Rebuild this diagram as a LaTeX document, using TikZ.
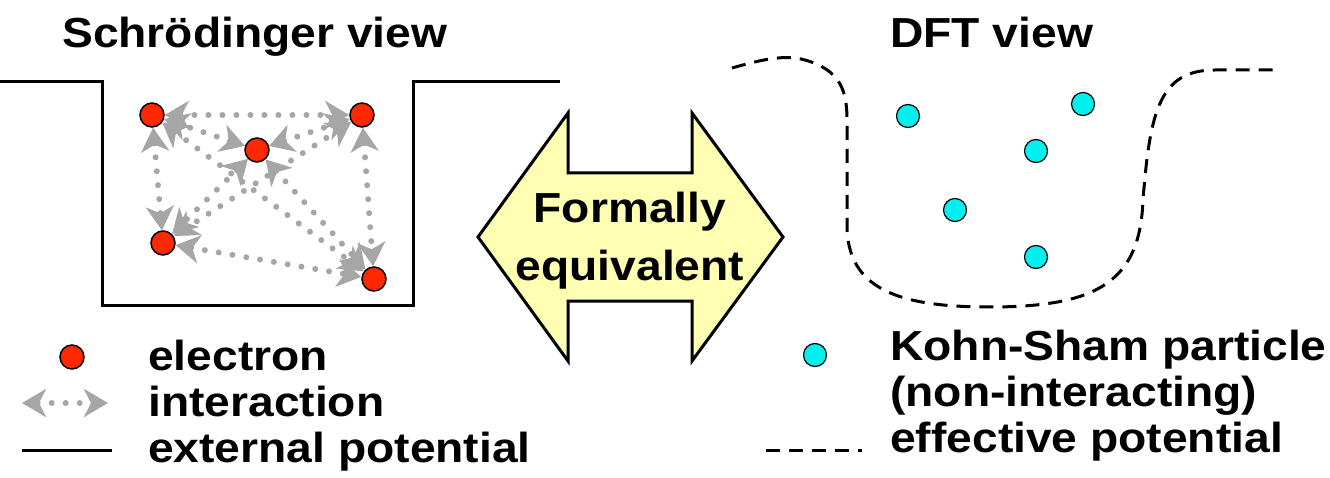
\documentclass[tikz,border=0pt]{standalone}
\usepackage{fontspec}
\newfontfamily\diagfont[FakeStretch=1.1]{Liberation Sans}
\usetikzlibrary{arrows.meta,positioning}

\definecolor{elred}{RGB}{255,40,0}
\definecolor{kscyan}{RGB}{0,240,240}
\definecolor{eqyellow}{RGB}{255,255,180}

\begin{document}
\begin{tikzpicture}[x=1pt, y=-1pt,
  txt/.style={font=\diagfont\bfseries\fontsize{42}{46}\selectfont, inner sep=0pt, anchor=base west},
  electron/.style={circle, draw=black, line width=1.5pt, fill=elred, minimum size=24pt, inner sep=0pt},
  ksdot/.style={circle, draw=black, line width=1.2pt, fill=kscyan, minimum size=23pt, inner sep=0pt},
  interact/.style={draw=gray!70, line width=6pt, dash pattern=on 0pt off 14pt, line cap=round,
    {Stealth[length=24pt, width=28pt, inset=7pt, fill=gray!70]}-{Stealth[length=24pt, width=28pt, inset=7pt, fill=gray!70]}},
  extpot/.style={line width=3pt},
  effpot/.style={line width=3pt, dash pattern=on 14pt off 9pt},
]
\useasboundingbox (0,0) rectangle (1330,478);

% === Schroedinger view ===
\node[txt] (stitle) at (62,48) {Schrödinger view};
\draw[extpot] (0,82) -- (102,82) -- (102,305) -- (413,305) -- (413,82) -- (560,82);

\node[electron] (el1) at (152,115) {};
\node[electron] (el2) at (257,150) {};
\node[electron] (el3) at (362,115) {};
\node[electron] (el4) at (163,243) {};
\node[electron] (el5) at (374,279) {};

\foreach \a/\b in {el1/el3, el1/el4, el3/el5, el4/el5, el2/el1, el2/el3, el2/el4, el2/el5, el1/el5, el3/el4}
  \draw[interact] (\a) -- (\b);

% === Formally equivalent ===
\draw[line width=3pt, fill=eqyellow, line join=miter]
  (478,237) -- (568,113) -- (568,173) -- (692,173) -- (692,113) -- (783,237)
  -- (692,361) -- (692,301) -- (568,301) -- (568,361) -- cycle;
\node[txt, anchor=base] (eq1) at (630,223) {Formally};
\node[txt, anchor=base] (eq2) at (630,280) {equivalent};

% === DFT view ===
\node[txt] (dtitle) at (890,48) {DFT view};
\draw[effpot] (732,68) .. controls (760,60) and (785,54) .. (805,60)
  .. controls (840,70) and (847,90) .. (847,120) -- (847,225)
  .. controls (847,290) and (900,307) .. (990,307)
  .. controls (1100,307) and (1140,280) .. (1143,200)
  .. controls (1150,110) and (1160,70) .. (1215,70) -- (1278,70);

\node[ksdot] (ks1) at (908,116) {};
\node[ksdot] (ks2) at (1083,104) {};
\node[ksdot] (ks3) at (1036,151) {};
\node[ksdot] (ks4) at (955,210) {};
\node[ksdot] (ks5) at (1036,257) {};

% === legend, left ===
\node[electron] (legel) at (72,357) {};
\node[txt] (lelectron) at (148,370) {electron};
\coordinate (intL) at (22,403);
\coordinate (intR) at (108,403);
\draw[interact] (intL) -- (intR);
\node[txt] (linteract) at (148,416) {interaction};
\coordinate (extL) at (22,450);
\coordinate (extR) at (112,450);
\draw[extpot] (extL) -- (extR);
\node[txt] (lext) at (148,462) {external potential};

% === legend, right ===
\node[ksdot] (legks) at (815,355) {};
\node[txt] (lks) at (890,360) {Kohn-Sham particle};
\node[txt] (lnonint) at (890,406) {(non-interacting)};
\coordinate (effL) at (766,450);
\coordinate (effR) at (862,450);
\draw[effpot] (effL) -- (effR);
\node[txt] (leff) at (890,452) {effective potential};

\end{tikzpicture}
\end{document}
